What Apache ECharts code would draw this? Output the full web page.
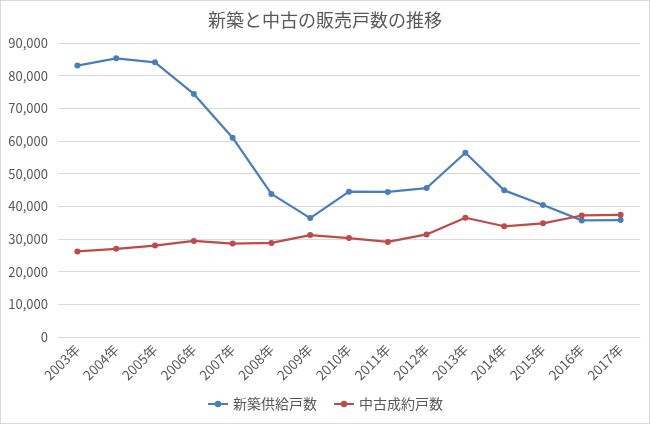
<!DOCTYPE html>
<html><head><meta charset="utf-8">
<script src="https://cdn.jsdelivr.net/npm/echarts@6/dist/echarts.min.js"></script>
<style>html,body{margin:0;padding:0;background:#fff}#c{width:648px;height:422px;border:1px solid #d9d9d9}</style>
</head><body><div id="c"></div>
<script>
const categories = ['2003年','2004年','2005年','2006年','2007年','2008年','2009年','2010年','2011年','2012年','2013年','2014年','2015年','2016年','2017年'];
const newSupply = [83100,85300,84100,74400,61000,43800,36400,44500,44400,45600,56400,44900,40400,35700,35800];
const usedSales = [26200,27000,28000,29400,28600,28800,31200,30300,29100,31400,36500,33900,34800,37200,37400];
const yTicks = {min:0, max:90000, interval:10000};
const seriesNames = ['新築供給戸数','中古成約戸数'];
const font = '"Noto Sans CJK JP", "Noto Sans", sans-serif';
const chart = echarts.init(document.getElementById('c'));
chart.setOption({
  animation:false,
  textStyle:{fontFamily:font},
  title:{text:'新築と中古の販売戸数の推移',left:'center',top:5,textStyle:{fontFamily:font,fontSize:18,fontWeight:'normal',color:'#595959'}},
  legend:{bottom:7,itemWidth:20,itemHeight:8,itemGap:16,textStyle:{fontFamily:font,fontSize:14,color:'#595959'},data:seriesNames},
  grid:{left:57,right:9,top:42,bottom:86},
  xAxis:{type:'category',data:categories,boundaryGap:true,
    axisLine:{lineStyle:{color:'#d9d9d9'}},axisTick:{show:false},
    axisLabel:{rotate:45,fontSize:13.5,color:'#595959',margin:10,interval:0,fontFamily:font}},
  yAxis:{type:'value',min:yTicks.min,max:yTicks.max,interval:yTicks.interval,
    axisLine:{show:false},axisTick:{show:false},
    splitLine:{lineStyle:{color:'#d9d9d9'}},
    axisLabel:{fontSize:13,color:'#595959',margin:10,fontFamily:font,formatter:v=>v.toLocaleString('en-US')}},
  series:[
    {name:seriesNames[0],type:'line',data:newSupply,symbol:'circle',symbolSize:6,color:'#4a7ebb',lineStyle:{width:2.25,color:'#4a7ebb'},itemStyle:{color:'#4a7ebb'}},
    {name:seriesNames[1],type:'line',data:usedSales,symbol:'circle',symbolSize:6,color:'#be4b48',lineStyle:{width:2.25,color:'#be4b48'},itemStyle:{color:'#be4b48'}}
  ]
});
</script></body></html>
